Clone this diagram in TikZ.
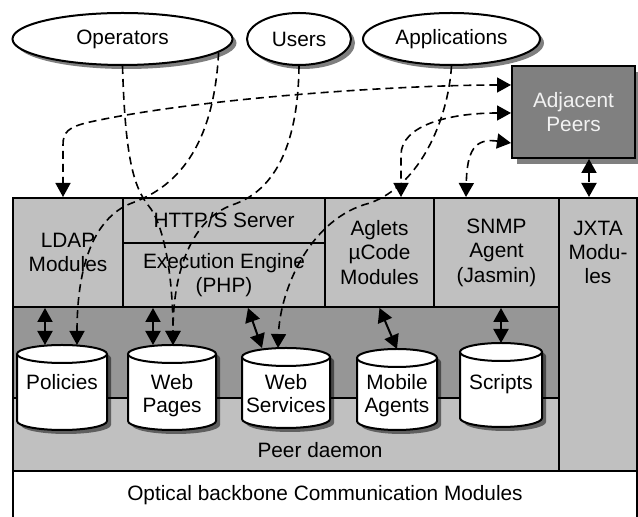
\documentclass[tikz,border=0pt]{standalone}
\usepackage{fontspec}
\setmainfont{Liberation Sans}
\usetikzlibrary{shapes.geometric,arrows.meta,calc}
\definecolor{lightg}{RGB}{192,192,192}
\definecolor{darkg}{RGB}{150,150,150}
\definecolor{adjg}{RGB}{128,128,128}
\definecolor{adjtxt}{RGB}{242,242,242}
\newcommand\dbcyl[6]{%
  \pgfmathsetmacro\cylr{#4/2}%
  \pgfmathsetmacro\cylh{(#5-#3+18)/2}%
  \fill[shadowc,shift={(4,4)}] (#2-#4,#3) -- (#2-#4,#5) arc[start angle=180,end angle=360,x radius=\cylr pt,y radius=4.5pt] -- (#2+#4,#3) arc[start angle=0,end angle=180,x radius=\cylr pt,y radius=4.5pt] -- cycle;
  \filldraw[fill=white,draw=black,line width=1pt] (#2-#4,#3) -- (#2-#4,#5) arc[start angle=180,end angle=360,x radius=\cylr pt,y radius=4.5pt] -- (#2+#4,#3);
  \filldraw[fill=white,draw=black,line width=1pt] (#2,#3) ellipse[x radius=\cylr pt,y radius=4.5pt];
  \node[inner sep=0pt,outer sep=0pt,minimum width=#4pt,minimum height=\cylh pt,anchor=north] (#1) at (#2,#3-9) {};
  \node[cylt] (#1t) at (#2,374) {#6};
}
\tikzset{
  shadowc/.style={fill=black,fill opacity=0.5},
  topell/.style={ellipse,draw=black,line width=1pt,fill=white,minimum height=26pt,inner sep=0pt},
  modbox/.style={draw=black,line width=1pt,fill=lightg,inner sep=0pt,align=center},
  cylt/.style={anchor=north,inner sep=0pt,align=center,font=\fontsize{10.4}{11.6}\selectfont},
  solidarr/.style={line width=1pt,<->},
  dasharr/.style={line width=0.8pt,dash pattern=on 4pt off 2.5pt},
}
\begin{document}
\begin{tikzpicture}[x=0.5pt,y=-0.5pt,font=\fontsize{10.4}{12.2}\selectfont,
  >={Triangle[width=7.5pt,length=7pt]}]
\useasboundingbox (0,0) rectangle (638,517);

% top ellipses
\fill[shadowc] (126.5,43) ellipse[x radius=55pt,y radius=13pt];
\fill[shadowc] (303,43) ellipse[x radius=26pt,y radius=13pt];
\fill[shadowc] (455.5,43) ellipse[x radius=44.25pt,y radius=13pt];
\node[topell,minimum width=110pt] (ops) at (122.5,39) {Operators};
\node[topell,minimum width=52pt] (users) at (299,39) {Users};
\node[topell,minimum width=88.5pt] (apps) at (451.5,39) {Applications};

% adjacent peers
\fill[shadowc] (517,72) rectangle (641,164);
\node[draw=black,line width=1pt,fill=adjg,text=adjtxt,minimum width=61.5pt,minimum height=46pt,align=center,inner sep=0pt] (adj) at (573.5,112) {Adjacent\\Peers};

% modules
\node[modbox,minimum width=55pt,minimum height=54.5pt] (ldap) at (68,252.5) {LDAP\\Modules};
\node[modbox,minimum width=101pt,minimum height=22.5pt] (http) at (224,220.5) {HTTP/S Server};
\node[modbox,minimum width=101pt,minimum height=32pt] (exec) at (224,275) {Execution Engine\\(PHP)};
\node[modbox,minimum width=54.5pt,minimum height=54.5pt] (aglets) at (379.5,252.5) {Aglets\\µCode\\Modules};
\node[modbox,minimum width=62.5pt,minimum height=54.5pt] (snmp) at (496.5,252.5) {SNMP\\Agent\\(Jasmin)};
\node[modbox,minimum width=39pt,minimum height=136.5pt] (jxta) at (598,334.5) {};
\node[align=center,inner sep=0pt] (jxtal) at (598,252.5) {JXTA\\Modu-\\les};
\node[modbox,fill=darkg,minimum width=273pt,minimum height=45.5pt] (band) at (286,352.5) {};
\node[modbox,minimum width=273pt,minimum height=36.5pt] (daemon) at (286,434.5) {};
\node[inner sep=0pt] (daemonl) at (320,450) {Peer daemon};
\node[modbox,fill=white,minimum width=312pt,minimum height=24pt] (optical) at (325,495) {Optical backbone Communication Modules};

% cylinders
\dbcyl{pol}{62}{354}{45}{421}{Policies}
\dbcyl{wp}{172}{354}{44}{421}{Web\\Pages}
\dbcyl{ws}{286}{357}{44}{419}{Web\\Services}
\dbcyl{ma}{397}{358}{40}{421}{Mobile\\Agents}
\dbcyl{scr}{501}{352}{41}{418}{Scripts}

% helper coordinates
\coordinate (polA) at ([xshift=-8.5pt]pol.north);
\coordinate (polB) at ([xshift=7.5pt]pol.north);
\coordinate (wpA) at ([xshift=-9.5pt]wp.north);
\coordinate (wpB) at ([xshift=0.5pt]wp.north);
\coordinate (wsA) at ([xshift=-12pt]ws.north);
\coordinate (wsB) at ([xshift=-4pt]ws.north);
\coordinate (execA) at ([xshift=12pt]exec.south);
\coordinate (ldapT) at ([xshift=-2.5pt]ldap.north);
\coordinate (aglT) at ([xshift=10.75pt]aglets.north);
\coordinate (snmpT) at ([xshift=-15.25pt]snmp.north);
\coordinate (adjA) at ([yshift=13.5pt]adj.west);
\coordinate (adjB) at ([yshift=-0.5pt]adj.west);
\coordinate (adjC) at ([yshift=-15.5pt]adj.west);
\coordinate (adjJ) at ([xshift=7.75pt]adj.south);

% solid arrows
\draw[solidarr] (polA |- ldap.south) -- (polA);
\draw[solidarr] (wpA |- exec.south) -- (wpA);
\draw[solidarr] (execA) -- (wsA);
\draw[solidarr] (aglets.south) -- (ma.north);
\draw[solidarr] (scr.north |- snmp.south) -- (scr.north);
\draw[solidarr,dash pattern=on 5pt off 3pt] (adjJ) -- (adjJ |- jxta.north);

% dashed arrows
\draw[dasharr,<->] (adjA) .. controls (400,85) and (200,98) .. (90,122) .. controls (68,127) and (63,132) .. (63,145) -- (ldapT);
\draw[dasharr,<->] (adjB) .. controls (450,113) and (401,125) .. (401,155) -- (aglT);
\draw[dasharr,<->] (adjC) .. controls (475,138) and (467,150) .. (snmpT);
\draw[dasharr,->] (ops.south) .. controls (125,150) and (132,185) .. (148,205) .. controls (165,225) and (173,280) .. (wpB);
\draw[dasharr,->] (ops.-8) .. controls (214,140) and (182,185) .. (132,203) .. controls (92,218) and (77,270) .. (polB);
\draw[dasharr,->] (users.south) .. controls (298,150) and (272,192) .. (232,205) .. controls (192,220) and (173,270) .. (wpB);
\draw[dasharr,->] (apps.south) .. controls (448,120) and (420,185) .. (370,203) .. controls (310,218) and (280,290) .. (wsB);
\end{tikzpicture}
\end{document}
